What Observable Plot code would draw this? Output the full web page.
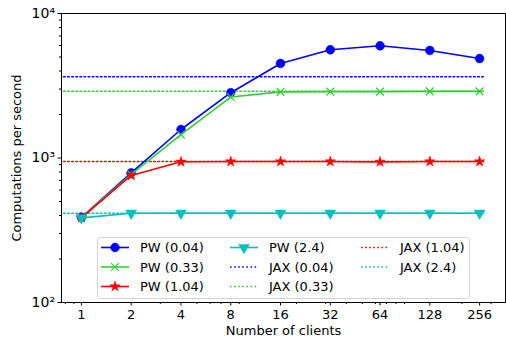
<!DOCTYPE html>
<html><head><meta charset="utf-8">
<script src="https://cdn.jsdelivr.net/npm/d3@7"></script>
<script src="https://cdn.jsdelivr.net/npm/@observablehq/plot@0.6"></script>
<style>
body{margin:0;background:#fff;font-family:"DejaVu Sans",sans-serif;}
#wrap{position:relative;width:506px;height:341px;}
#legend{position:absolute;left:0;top:0;}
</style></head><body><div id="wrap"></div>
<script>
// ---- data ----
const clients = [1, 2, 4, 8, 16, 32, 64, 128, 256];
const pw004 = [389, 790, 1575, 2830, 4510, 5610, 5980, 5550, 4880];
const pw033 = [389, 770, 1450, 2640, 2870, 2880, 2880, 2890, 2890];
const pw104 = [385, 757, 941, 945, 945, 945, 940, 945, 945];
const pw24  = [385, 415, 415, 415, 415, 415, 415, 415, 415];
const jaxValues = [3650, 2900, 945, 415];
const jaxXRange = [0.78, 278];
const seriesLabels = ["PW (0.04)", "PW (0.33)", "PW (1.04)", "PW (2.4)"];
const jaxLabels = ["JAX (0.04)", "JAX (0.33)", "JAX (1.04)", "JAX (2.4)"];
const colors = ["#0000ff", "#32cd32", "#ff0000", "#00bfbf"];
const xTickLabels = ["1", "2", "4", "8", "16", "32", "64", "128", "256"];
const xMinor = [0.8, 0.9, 3, 5, 6, 7, 9, 20, 30, 40, 50, 60, 70, 80, 90, 200, 300];
const yMajor = [100, 1000, 10000];
const yMajorLabels = ["10²", "10³", "10⁴"];
const yMinor = [200,300,400,500,600,700,800,900,2000,3000,4000,5000,6000,7000,8000,9000];

// custom downward triangle symbol
const triangleDown = {
  draw(context, size) {
    const s = Math.sqrt(size / (Math.sqrt(3) / 4));
    const h = s * Math.sqrt(3) / 2;
    context.moveTo(0, h * 2 / 3);
    context.lineTo(s / 2, -h / 3);
    context.lineTo(-s / 2, -h / 3);
    context.closePath();
  }
};
const symbols = ["circle", "times", "star", triangleDown];
const symbolR = [4.4, 3.6, 3.3, 4.0];
const DASH = "1.6,2.5";
const FS = 13;

const seriesArrays = [pw004, pw033, pw104, pw24];
const rows = [];
seriesArrays.forEach((arr, i) => arr.forEach((v, j) => rows.push({series: seriesLabels[i], idx: i, x: clients[j], y: v})));
const jaxRows = [];
jaxValues.forEach((v, i) => jaxXRange.forEach(x => jaxRows.push({series: jaxLabels[i], idx: i, x, y: v})));

const marks = [
  Plot.frame({stroke: "black", strokeWidth: 1}),
  Plot.axisY({ticks: yMinor, tickSize: 2, tickFormat: () => "", label: null}),
  Plot.axisY({ticks: yMajor, tickSize: 3.5, tickPadding: 3, tickFormat: d => yMajorLabels[yMajor.indexOf(d)], label: null, fontSize: 14}),
  Plot.axisX({ticks: xMinor, tickSize: 2, tickFormat: () => "", label: null}),
  Plot.axisX({ticks: clients, tickSize: 3.5, tickPadding: 4, tickFormat: d => xTickLabels[clients.indexOf(d)], label: null, fontSize: FS}),
  Plot.text(["Computations per second"], {frameAnchor: "left", textAnchor: "middle", dx: -45, rotate: -90, fontSize: FS}),
  Plot.text(["Number of clients"], {frameAnchor: "bottom", dy: 32, fontSize: FS})
];
// JAX dotted lines
jaxValues.forEach((v, i) => {
  marks.push(Plot.line(jaxRows.filter(r => r.idx === i), {x: "x", y: "y", stroke: colors[i], strokeWidth: 1.6, strokeDasharray: DASH}));
});
// PW lines + markers
[0, 1, 2, 3].forEach(i => {
  const d = rows.filter(r => r.idx === i);
  marks.push(Plot.line(d, {x: "x", y: "y", stroke: colors[i], strokeWidth: 1.6}));
  if (i === 1) {
    marks.push(Plot.dot(d, {x: "x", y: "y", symbol: symbols[i], r: symbolR[i], stroke: colors[i], strokeWidth: 1.2}));
  } else {
    marks.push(Plot.dot(d, {x: "x", y: "y", symbol: symbols[i], r: symbolR[i], fill: colors[i], stroke: colors[i], strokeWidth: 0.5}));
  }
});

const plot = Plot.plot({
  width: 506, height: 341,
  marginLeft: 61, marginRight: 1, marginTop: 13, marginBottom: 39,
  style: {fontFamily: "DejaVu Sans", fontSize: FS + "px", background: "white", color: "black"},
  x: {type: "log", base: 2, domain: [Math.pow(2, -0.4), Math.pow(2, 8.52)]},
  y: {type: "log", domain: [100, 10000]},
  marks
});
const wrap = document.getElementById("wrap");
wrap.appendChild(plot);

// ---- legend overlay ----
const legendItems = [];
seriesLabels.forEach((l, i) => legendItems.push({label: l, color: colors[i], dotted: false, symbol: symbols[i], r: symbolR[i], idx: i}));
jaxLabels.forEach((l, i) => legendItems.push({label: l, color: colors[i], dotted: true, idx: i}));
const svg = d3.select(wrap).append("svg").attr("id", "legend").attr("width", 506).attr("height", 341);
svg.append("rect").attr("x", 97.5).attr("y", 237.5).attr("width", 372).attr("height", 61).attr("rx", 2.5)
  .attr("fill", "white").attr("fill-opacity", 0.85).attr("stroke", "#d6d6d6");
const colX = [101, 230, 361];
const rowY = [247.5, 267, 286.5];
legendItems.forEach((it, k) => {
  const c = Math.floor(k / 3), r = k % 3;
  const x0 = colX[c], y = rowY[r];
  const g = svg.append("g");
  g.append("line").attr("x1", x0).attr("x2", x0 + 28).attr("y1", y).attr("y2", y)
    .attr("stroke", it.color).attr("stroke-width", 1.6).attr("stroke-dasharray", it.dotted ? DASH : null);
  if (!it.dotted) {
    const typ = typeof it.symbol === "string" ? ({circle: d3.symbolCircle, times: d3.symbolTimes, star: d3.symbolStar})[it.symbol] : it.symbol;
    const path = d3.symbol(typ, it.r * it.r * Math.PI)();
    const p = g.append("path").attr("d", path).attr("transform", `translate(${x0 + 14},${y})`);
    if (it.idx === 1) p.attr("fill", "none").attr("stroke", it.color).attr("stroke-width", 1.2);
    else p.attr("fill", it.color).attr("stroke", it.color).attr("stroke-width", 0.5);
  }
  g.append("text").attr("x", x0 + 39).attr("y", y).attr("dy", "0.36em")
    .attr("font-family", "DejaVu Sans").attr("font-size", FS).attr("fill", "black").text(it.label);
});
</script></body></html>
